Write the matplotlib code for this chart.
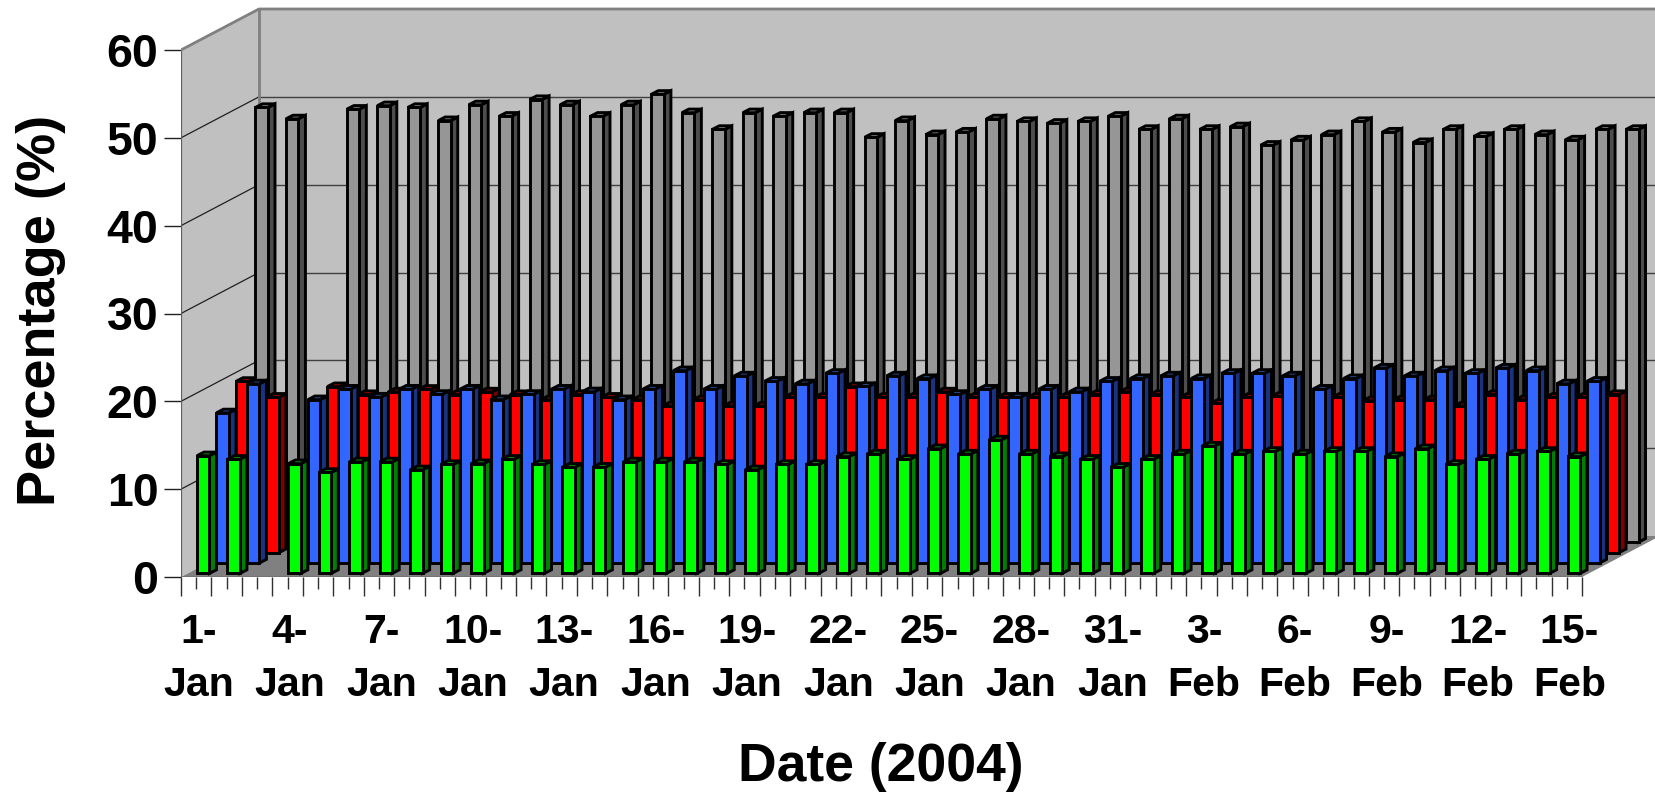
import numpy as np
import matplotlib
matplotlib.use('Agg')
import matplotlib.pyplot as plt
from matplotlib.patches import Polygon
from matplotlib.transforms import ScaledTranslation

plt.rcParams['font.family'] = ['Liberation Sans', 'DejaVu Sans']
plt.rcParams['font.weight'] = 'bold'

nan = np.nan

# one value per day, 1 Jan - 15 Feb 2004 (3 Jan has no data)
green = [13.4, 13.0, nan, 12.5, 11.5, 12.7, 12.7, 11.8, 12.4, 12.5, 13.0, 12.4, 12.1, 12.1, 12.7, 12.7,
         12.7, 12.4, 11.8, 12.4, 12.4, 13.3, 13.6, 13.0, 14.2, 13.6, 15.2, 13.6, 13.3, 13.0, 12.1, 13.0,
         13.6, 14.5, 13.6, 13.9, 13.6, 13.9, 13.9, 13.3, 14.2, 12.4, 13.0, 13.6, 13.9, 13.3]
blue = [17.1, 20.4, nan, 18.6, 19.8, 18.9, 19.8, 19.2, 19.8, 18.6, 19.2, 19.8, 19.5, 18.6, 19.8, 21.9,
        19.8, 21.3, 20.7, 20.4, 21.6, 20.1, 21.3, 21.0, 19.2, 19.8, 18.9, 19.8, 19.5, 20.7, 21.0, 21.3,
        21.0, 21.6, 21.6, 21.3, 19.8, 21.0, 22.2, 21.3, 21.9, 21.6, 22.2, 21.9, 20.4, 20.7]
red = [19.5, 17.7, nan, 18.9, 18.0, 18.3, 18.6, 18.0, 18.3, 18.0, 17.4, 18.0, 17.7, 17.4, 16.7, 17.4,
       16.7, 16.7, 17.7, 17.7, 18.9, 17.7, 17.7, 18.3, 17.7, 17.7, 17.7, 17.7, 18.0, 18.3, 18.0, 17.7,
       17.0, 17.7, 17.8, nan, 17.7, 17.3, 17.4, 17.4, 16.7, 18.0, 17.4, 17.7, 17.7, 18.0]
grey = [49.5, 48.2, nan, 49.3, 49.7, 49.5, 48.0, 49.8, 48.5, 50.4, 49.8, 48.5, 49.8, 51.0, 48.9, 47.0,
        48.9, 48.5, 48.9, 48.9, 46.1, 48.0, 46.4, 46.7, 48.2, 47.9, 47.7, 47.9, 48.5, 47.0, 48.2, 47.0,
        47.3, 45.2, 45.8, 46.4, 47.9, 46.7, 45.5, 47.0, 46.2, 47.0, 46.4, 45.8, 47.0, 47.0]

tick_labels = ['1-\nJan', '4-\nJan', '7-\nJan', '10-\nJan', '13-\nJan', '16-\nJan', '19-\nJan', '22-\nJan',
               '25-\nJan', '28-\nJan', '31-\nJan', '3-\nFeb', '6-\nFeb', '9-\nFeb', '12-\nFeb', '15-\nFeb']
y_ticks = [0, 10, 20, 30, 40, 50, 60]

n = len(green)
px_x = 1401 / 46   # pixels per category
px_y = 527 / 60    # pixels per percent

wall_dx = 78 / px_x
wall_dy = 41 / px_y
face_w = 12.5 / px_x
gap = (1 - face_w) / 2
bar_dx = 7 / px_x
bar_dy = 3.6 / px_y
bar_lw = 2.1


def draw_bar(ax, i, v, row, cols):
    if np.isnan(v):
        return
    x0 = i + gap + (7 + 19.5 * row) / px_x
    y0 = (3.6 + 10.4 * row) / px_y
    x1 = x0 + face_w
    y1 = y0 + v
    # side, top, then front
    ax.add_patch(Polygon([(x1, y0), (x1 + bar_dx, y0 + bar_dy), (x1 + bar_dx, y1 + bar_dy), (x1, y1)],
                         fc=cols[1], ec='black', lw=bar_lw, joinstyle='miter', zorder=5))
    ax.add_patch(Polygon([(x0, y1), (x1, y1), (x1 + bar_dx, y1 + bar_dy), (x0 + bar_dx, y1 + bar_dy)],
                         fc=cols[2], ec='black', lw=bar_lw, joinstyle='miter', zorder=5))
    ax.add_patch(Polygon([(x0, y0), (x1, y0), (x1, y1), (x0, y1)],
                         fc=cols[0], ec='black', lw=bar_lw, joinstyle='miter', zorder=5))


fig = plt.figure(figsize=(16.56, 7.92), dpi=100)
ax = fig.add_axes([181 / 1656, (792 - 577) / 792, 1 - 181 / 1656, 577 / 792])
x_max = (1656 - 181) / px_x
ax.set_xlim(0, x_max)
ax.set_ylim(0, 577 / px_y)
for s in ax.spines.values():
    s.set_visible(False)

wall = '#C0C0C0'
edge = '#808080'
back_right = n + wall_dx
ax.add_patch(Polygon([(wall_dx, wall_dy), (back_right, wall_dy), (back_right, 60 + wall_dy), (wall_dx, 60 + wall_dy)],
                     fc=wall, ec='none', zorder=1))
ax.add_patch(Polygon([(0, 0), (0, 60), (wall_dx, 60 + wall_dy), (wall_dx, wall_dy)], fc=wall, ec='none', zorder=1))
ax.add_patch(Polygon([(0, 0), (n, 0), (back_right, wall_dy), (wall_dx, wall_dy)], fc=edge, ec='none', zorder=1))

# grid on both walls
for v in y_ticks[1:-1]:
    ax.plot([0, wall_dx], [v, v + wall_dy], color='#202020', lw=0.9, zorder=2)
    ax.plot([wall_dx, back_right], [v + wall_dy, v + wall_dy], color='#404040', lw=1.0, zorder=2)

ax.plot([0, 0], [0, 60], color='#606060', lw=1.6, zorder=3)
ax.plot([0, wall_dx, back_right], [60, 60 + wall_dy, 60 + wall_dy], color=edge, lw=2.0, zorder=3)
ax.plot([wall_dx, wall_dx], [wall_dy, 60 + wall_dy], color=edge, lw=2.0, zorder=3)
ax.plot([0, n], [0, 0], color='#404040', lw=1.0, zorder=3)

rows = [(grey, 3, ('#969696', '#4D4D4D', '#969696')),
        (red, 2, ('#FF0000', '#800000', '#CC0000')),
        (blue, 1, ('#3366FF', '#1A3380', '#3366CC')),
        (green, 0, ('#00FF00', '#008000', '#00CC00'))]
for vals, row, cols in rows:
    for i, v in enumerate(vals):
        draw_bar(ax, i, v, row, cols)

ax.set_yticks(y_ticks)
ax.tick_params(axis='y', length=12.2, width=1, color='#202020', labelsize=33.5, pad=4)

ax.set_xticks(np.arange(n + 1))
ax.set_xticklabels([])
centres = np.arange(n) + 0.5
minor_labels = ['' for c in centres]
minor_labels[0::3] = tick_labels
ax.set_xticks(centres, labels=minor_labels, minor=True)
ax.tick_params(axis='x', which='major', length=13.7, width=1, color='#303030')
ax.tick_params(axis='x', which='minor', length=8.6, width=1, color='#303030', labelsize=29.5, pad=17)
nudge = ScaledTranslation(2.5 / 100, 0, fig.dpi_scale_trans)
for lab in ax.get_xticklabels(minor=True):
    lab.set_linespacing(1.5)
    lab.set_transform(lab.get_transform() + nudge)

ax.set_xlabel('Date (2004)', fontsize=38.5, fontweight='bold')
ax.xaxis.set_label_coords(881 / 1656, 1 - 767 / 792, transform=fig.transFigure)
ax.xaxis.label.set_va('center')
ax.set_ylabel('Percentage (%)', fontsize=39, fontweight='bold')
ax.yaxis.set_label_coords(41 / 1656, 1 - 310 / 792, transform=fig.transFigure)
ax.yaxis.label.set_va('center')

fig.savefig('out.png', dpi=100)
